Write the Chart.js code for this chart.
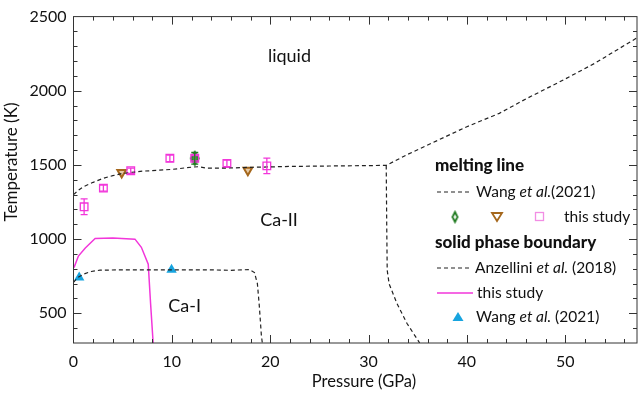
<!DOCTYPE html>
<html>
<head>
<meta charset="utf-8">
<script src="https://cdn.jsdelivr.net/npm/chart.js@4.4.1/dist/chart.umd.min.js"></script>
<style>
  html, body { margin: 0; padding: 0; background: #fff; }
  #wrap { width: 644px; height: 396px; }
</style>
</head>
<body>
<div id="wrap"><canvas id="phaseChart" width="644" height="396"></canvas></div>
<script>
// Melting line, Wang et al. (2021)
const meltP = [0, 0.5, 1, 2, 3, 4, 5, 7, 10, 12, 12.7, 13.5, 15, 18, 22, 26, 31.8, 34, 37.2, 40, 43.3, 46, 49.7, 53, 57.3];
const meltT = [1300, 1330, 1353, 1383, 1410, 1428, 1443, 1458, 1470, 1485, 1488, 1479, 1478, 1484, 1490, 1493, 1497, 1572, 1671, 1758, 1848, 1945, 2069, 2185, 2357];

// Ca-II high pressure boundary (same dashed style, no legend entry)
const bndP = [31.8, 31.85, 31.9, 32.1, 32.9, 33.9, 35.2];
const bndT = [1497, 1100, 790, 698, 565, 433, 300];

// Solid phase boundary, Anzellini et al. (2018)
const anzP = [0, 0.4, 1.0, 1.8, 2.7, 5, 10, 13.9, 16, 17.9, 18.4, 18.7, 18.9, 19.1, 19.2];
const anzT = [709, 740, 764, 782, 791, 793, 793, 793, 790, 795, 775, 700, 545, 355, 300];

// Solid phase boundary, this study
const solidP = [0.05, 0.5, 1.2, 2.2, 4.0, 6.25, 6.9, 7.6, 7.84, 8.1];
const solidT = [808, 886, 941, 1005, 1007, 1000, 945, 831, 565, 300];

// Melting points, this study
const sqP = [1.08, 3.04, 5.82, 9.8, 12.33, 15.6, 19.66];
const sqT = [1218, 1344, 1461, 1545, 1545, 1510, 1494];
const sqErr = [53, 20, 18, 22, 18, 22, 52];
const triP = [4.9, 17.73];
const triT = [1450, 1465];
const diaP = [12.33];
const diaT = [1545];
const diaErr = [39];

// Solid phase points, Wang et al. (2021)
const wangP = [0.58, 9.97];
const wangT = [742, 793];

const xTicks = [0, 10, 20, 30, 40, 50];
const yTicks = [500, 1000, 1500, 2000, 2500];
const xTitle = 'Pressure (GPa)';
const yTitle = 'Temperature (K)';

const regionLabels = ['liquid', 'Ca-II', 'Ca-I'];
const regionP = [21.96, 20.9, 11.3];
const regionT = [2233, 1128, 548];

const pts = (xs, ys) => xs.map((v, i) => ({ x: v, y: ys[i] }));

const FONT = 'Lato, "Liberation Sans", sans-serif';
const MAGENTA = '#f236da';
const BROWN = '#a5671c';
const GREEN = '#1f7a1f';
const BLUE = '#17a4df';

// tall diamond used for the green point
function makeDiamond(w, h, fill) {
    const c = document.createElement('canvas');
    c.width = w + 4; c.height = h + 4;
    const g = c.getContext('2d');
    g.beginPath();
    g.moveTo(c.width / 2, 2);
    g.lineTo(c.width - 2, c.height / 2);
    g.lineTo(c.width / 2, c.height - 2);
    g.lineTo(2, c.height / 2);
    g.closePath();
    g.fillStyle = fill;
    g.fill();
    g.lineWidth = 1.8;
    g.strokeStyle = GREEN;
    g.stroke();
    return c;
}
const diamondPlot = makeDiamond(8, 13, '#3c9a3c');
const diamondLegend = makeDiamond(5, 10, '#ffffff');

// error bars drawn through the scales
const errorBarPlugin = {
    id: 'errorBars',
    afterDatasetsDraw(chart) {
        const { ctx, scales: { y } } = chart;
        chart.data.datasets.forEach((ds, di) => {
            if (!ds.errors) return;
            const meta = chart.getDatasetMeta(di);
            ctx.save();
            ctx.strokeStyle = ds.errorColor;
            ctx.lineWidth = 1.3;
            meta.data.forEach((el, i) => {
                const v = ds.data[i].y, e = ds.errors[i];
                const top = y.getPixelForValue(v + e), bot = y.getPixelForValue(v - e);
                ctx.beginPath();
                ctx.moveTo(el.x, top); ctx.lineTo(el.x, bot);
                ctx.moveTo(el.x - 3.5, top); ctx.lineTo(el.x + 3.5, top);
                ctx.moveTo(el.x - 3.5, bot); ctx.lineTo(el.x + 3.5, bot);
                ctx.stroke();
            });
            ctx.restore();
        });
    }
};

function seg(ctx, x1, y1, x2, y2) {
    ctx.beginPath(); ctx.moveTo(x1, y1); ctx.lineTo(x2, y2); ctx.stroke();
}

function drawRich(ctx, parts, x, y) {
    parts.forEach(([txt, it]) => {
        ctx.font = (it ? 'italic ' : '') + '15.5px ' + FONT;
        ctx.fillText(txt, x, y);
        x += ctx.measureText(txt).width;
    });
}

// frame, inward ticks, axis titles, region names and the legend
const overlayPlugin = {
    id: 'overlay',
    afterDraw(chart) {
        const { ctx, chartArea: a, scales: { x, y } } = chart;
        ctx.save();
        ctx.strokeStyle = '#333';
        ctx.lineWidth = 1;
        ctx.strokeRect(a.left, a.top, a.right - a.left, a.bottom - a.top);

        for (let p = 2; p <= x.max; p += 2) {
            const px = Math.round(x.getPixelForValue(p)) + 0.5;
            const len = p % 10 === 0 ? 8 : 4;
            seg(ctx, px, a.bottom, px, a.bottom - len);
            seg(ctx, px, a.top, px, a.top + len);
        }
        for (let t = 400; t < 2500; t += 100) {
            const py = Math.round(y.getPixelForValue(t)) + 0.5;
            const len = t % 500 === 0 ? 8 : 4;
            seg(ctx, a.left, py, a.left + len, py);
            seg(ctx, a.right, py, a.right - len, py);
        }

        // axis titles
        ctx.fillStyle = '#111';
        ctx.textAlign = 'center';
        ctx.textBaseline = 'middle';
        ctx.font = '16.5px ' + FONT;
        ctx.fillText(xTitle, 364, 382);
        ctx.save();
        ctx.translate(12, 162);
        ctx.rotate(-Math.PI / 2);
        ctx.font = '17px ' + FONT;
        ctx.fillText(yTitle, 0, 0);
        ctx.restore();

        // region names
        ctx.font = '18px ' + FONT;
        regionLabels.forEach((txt, i) => {
            ctx.fillText(txt, x.getPixelForValue(regionP[i]), y.getPixelForValue(regionT[i]));
        });

        // legend
        ctx.textAlign = 'left';
        ctx.font = '900 17px ' + FONT;
        ctx.fillText('melting line', 435, 166);
        ctx.fillText('solid phase boundary', 435, 243);

        ctx.strokeStyle = '#222';
        ctx.lineWidth = 1.2;
        ctx.setLineDash([4, 3]);
        seg(ctx, 437, 192, 472, 192);
        seg(ctx, 437, 268, 472, 268);
        ctx.setLineDash([]);
        drawRich(ctx, [['Wang ', false], ['et al.', true], ['(2021)', false]], 476, 192);
        drawRich(ctx, [['Anzellini ', false], ['et al.', true], [' (2018)', false]], 475, 268);

        ctx.drawImage(diamondLegend, 455 - diamondLegend.width / 2, 217 - diamondLegend.height / 2);
        ctx.strokeStyle = BROWN;
        ctx.lineWidth = 1.8;
        ctx.beginPath();
        ctx.moveTo(492, 213); ctx.lineTo(502, 213); ctx.lineTo(497, 221); ctx.closePath();
        ctx.stroke();
        ctx.strokeStyle = '#f28de4';
        ctx.lineWidth = 1.3;
        ctx.strokeRect(535.5, 212.5, 8, 8);
        drawRich(ctx, [['this study', false]], 564, 217);

        ctx.strokeStyle = MAGENTA;
        ctx.lineWidth = 1.5;
        seg(ctx, 437, 293, 473, 293);
        drawRich(ctx, [['this study', false]], 477, 293);

        ctx.fillStyle = BLUE;
        ctx.beginPath();
        ctx.moveTo(458, 312); ctx.lineTo(463.5, 321); ctx.lineTo(452.5, 321); ctx.closePath();
        ctx.fill();
        ctx.fillStyle = '#111';
        drawRich(ctx, [['Wang ', false], ['et al.', true], [' (2021)', false]], 476, 317);
        ctx.restore();
    }
};

const dashedLine = {
    showLine: true, pointRadius: 0, borderColor: '#222', borderWidth: 1.2,
    borderDash: [4, 3], fill: false, tension: 0
};

document.addEventListener('DOMContentLoaded', function () {
    const ctx = document.getElementById('phaseChart').getContext('2d');
    new Chart(ctx, {
        type: 'scatter',
        data: {
            datasets: [
                { label: 'melting line Wang et al.(2021)', data: pts(meltP, meltT), ...dashedLine },
                { label: 'Ca-II boundary', data: pts(bndP, bndT), ...dashedLine },
                { label: 'Anzellini et al. (2018)', data: pts(anzP, anzT), ...dashedLine },
                { label: 'solid boundary this study', data: pts(solidP, solidT), showLine: true, pointRadius: 0,
                  borderColor: MAGENTA, borderWidth: 1.5, tension: 0 },
                { label: 'melting this study', data: pts(sqP, sqT), errors: sqErr, errorColor: MAGENTA,
                  pointStyle: 'rect', pointRadius: 5.4, borderWidth: 1.3, borderColor: MAGENTA,
                  backgroundColor: 'rgba(255,255,255,0)' },
                { label: 'melting triangles', data: pts(triP, triT), pointStyle: 'triangle', rotation: 180,
                  pointRadius: 5, borderWidth: 2, borderColor: BROWN, backgroundColor: 'rgba(200,140,60,0.45)' },
                { label: 'melting diamond', data: pts(diaP, diaT), errors: diaErr, errorColor: GREEN,
                  pointStyle: diamondPlot, pointRadius: 6 },
                { label: 'Wang et al. (2021)', data: pts(wangP, wangT), pointStyle: 'triangle',
                  pointRadius: 6, borderWidth: 0, backgroundColor: BLUE, borderColor: BLUE }
            ]
        },
        options: {
            responsive: false,
            animation: false,
            layout: { padding: { top: 12, right: 6, left: 0, bottom: 0 } },
            plugins: { legend: { display: false }, tooltip: { enabled: false } },
            scales: {
                x: {
                    type: 'linear', min: 0, max: 57.3,
                    afterBuildTicks: s => { s.ticks = xTicks.map(v => ({ value: v })); },
                    afterFit: s => { s.height = 53; },
                    grid: { display: false, drawTicks: false },
                    border: { display: false },
                    ticks: { padding: 9, color: '#111', maxRotation: 0, font: { family: FONT, size: 16 },
                             callback: v => String(v) },
                    title: { display: false }
                },
                y: {
                    type: 'linear', min: 300, max: 2500,
                    afterBuildTicks: s => { s.ticks = yTicks.map(v => ({ value: v })); },
                    afterFit: s => { s.width = 73.5; },
                    grid: { display: false, drawTicks: false },
                    border: { display: false },
                    ticks: { padding: 7, color: '#111', font: { family: FONT, size: 16 },
                             callback: v => String(v) },
                    title: { display: false }
                }
            }
        },
        plugins: [errorBarPlugin, overlayPlugin]
    });
});
</script>
</body>
</html>
